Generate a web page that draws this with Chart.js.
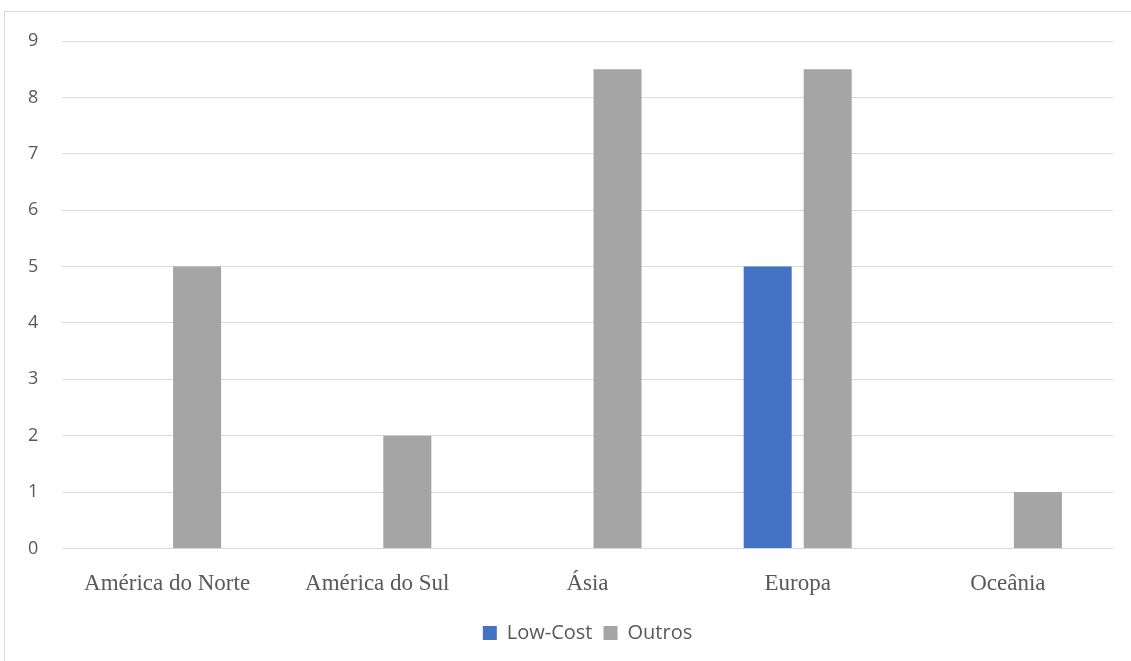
<!DOCTYPE html>
<html>
<head>
<meta charset="utf-8">
<script src="https://cdn.jsdelivr.net/npm/chart.js@4.4.0/dist/chart.umd.min.js"></script>
<style>
  body { margin: 0; background: #fff; overflow: hidden; }
  #frame {
    position: absolute; left: 4px; top: 11px;
    width: 1160px; height: 660px;
    border-left: 1px solid #D9D9D9; border-top: 1px solid #D9D9D9;
  }
  #wrap { position: absolute; left: 0; top: 0; width: 1154px; height: 649px; }
</style>
</head>
<body>
<div id="frame"><div id="wrap"><canvas id="regionChart"></canvas></div></div>
<script>
// Chart data
const regions = ["América do Norte", "América do Sul", "Ásia", "Europa", "Oceânia"];
const lowCost = [0, 0, 0, 5, 0];
const outros = [5, 2, 8.5, 8.5, 1];
const yTicks = [0, 1, 2, 3, 4, 5, 6, 7, 8, 9];

const ctx = document.getElementById("regionChart").getContext("2d");

new Chart(ctx, {
    type: "bar",
    data: {
        labels: regions,
        datasets: [
            { label: "Low-Cost", data: lowCost, backgroundColor: "#4472C4" },
            { label: "Outros", data: outros, backgroundColor: "#A5A5A5" }
        ]
    },
    options: {
        responsive: true,
        maintainAspectRatio: false,
        animation: false,
        datasets: { bar: { barPercentage: 0.8, categoryPercentage: 0.571 } },
        layout: { padding: { top: 29, right: 46, bottom: 8, left: 23 } },
        scales: {
            x: {
                grid: { display: false },
                border: { display: false },
                ticks: {
                    color: "#595959",
                    padding: 14,
                    font: { family: "'Liberation Serif', serif", size: 23 }
                }
            },
            y: {
                min: 0,
                max: 9,
                afterBuildTicks: scale => { scale.ticks = yTicks.map(v => ({ value: v })); },
                afterFit: scale => { scale.width = 34; },
                grid: { color: "#D9D9D9", lineWidth: 1, drawTicks: false },
                border: { display: false },
                ticks: {
                    color: "#595959",
                    padding: 0,
                    crossAlign: "far",
                    font: { family: "'Open Sans', sans-serif", size: 18 }
                }
            }
        },
        plugins: {
            legend: {
                position: "bottom",
                fullSize: false,
                labels: {
                    color: "#595959",
                    boxWidth: 14,
                    boxHeight: 14,
                    padding: 11,
                    font: { family: "'Open Sans', sans-serif", size: 20 }
                }
            },
            tooltip: { enabled: false },
            title: { display: false }
        }
    }
});
</script>
</body>
</html>
